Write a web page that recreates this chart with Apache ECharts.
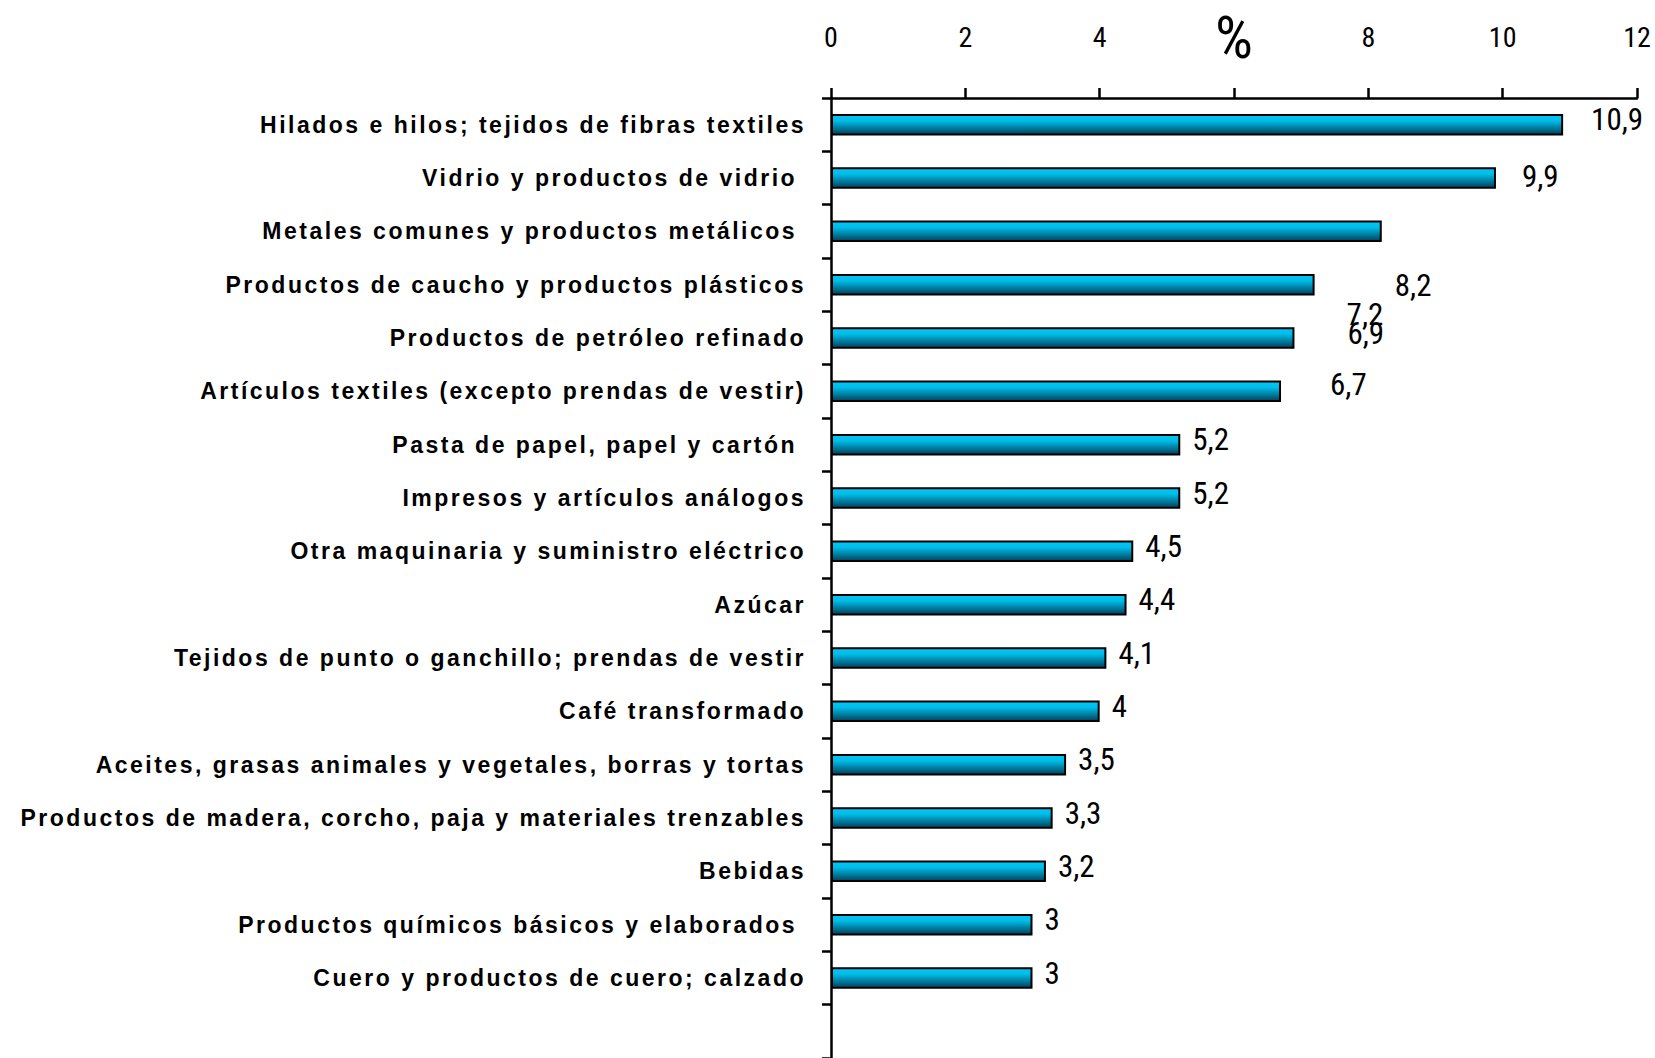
<!DOCTYPE html>
<html>
<head>
<meta charset="utf-8">
<script src="https://cdn.jsdelivr.net/npm/echarts@6/dist/echarts.min.js"></script>
<style>
  html, body { margin: 0; padding: 0; background: #fff; }
  #chart { width: 1655px; height: 1058px; }
  #chart text[style*="bold"], #chart text[font-weight="bold"] { letter-spacing: 2.5px; white-space: pre; }
  #chart text:not([style*="bold"]):not([font-weight="bold"]) { font-stretch: condensed !important; }
</style>
</head>
<body>
<div id="chart"></div>
<script>
const categories = [
  "Hilados e hilos; tejidos de fibras textiles",
  "Vidrio y productos de vidrio ",
  "Metales comunes y productos metálicos ",
  "Productos de caucho y productos plásticos",
  "Productos de petróleo refinado",
  "Artículos textiles (excepto prendas de vestir)",
  "Pasta de papel, papel y cartón ",
  "Impresos y artículos análogos",
  "Otra maquinaria y suministro eléctrico",
  "Azúcar",
  "Tejidos de punto o ganchillo; prendas de vestir",
  "Café transformado",
  "Aceites, grasas animales y vegetales, borras y tortas",
  "Productos de madera, corcho, paja y materiales trenzables",
  "Bebidas",
  "Productos químicos básicos y elaborados ",
  "Cuero y productos de cuero; calzado"
];
const values = [10.9, 9.9, 8.2, 7.2, 6.9, 6.7, 5.2, 5.2, 4.5, 4.4, 4.1, 4, 3.5, 3.3, 3.2, 3, 3];
const xTicks = { min: 0, max: 12, interval: 2 };
const axisTitle = "%";
const axisTitleAt = 6;

// label displacement as in the original (styling only)
const labelOffsets = { 0: [16, -5], 1: [14, -2], 2: [1, 54], 3: [20, 30], 4: [41, -5], 5: [37, -7] };

const narrow = "'Liberation Sans Narrow', 'Arial Narrow', 'Roboto Condensed', 'Noto Sans Condensed', 'DejaVu Sans Condensed', 'Noto Sans', sans-serif";

const chart = echarts.init(document.getElementById('chart'), null, { renderer: 'svg' });

const seriesData = values.map((v, i) => {
  const item = { value: v };
  if (labelOffsets[i]) item.label = { offset: labelOffsets[i] };
  return item;
});

chart.setOption({
  animation: false,
  backgroundColor: '#ffffff',
  grid: { left: 831, top: 98, width: 806, height: 963, containLabel: false },
  xAxis: {
    type: 'value',
    position: 'top',
    min: xTicks.min, max: xTicks.max, interval: xTicks.interval,
    axisLine: { show: true, lineStyle: { color: '#000', width: 2.5 } },
    axisTick: { show: true, length: 10, lineStyle: { color: '#000', width: 2.5 } },
    splitLine: { show: false },
    axisLabel: {
      margin: 47,
      color: '#000',
      fontFamily: narrow,
      fontSize: 28,
      formatter: v => v === axisTitleAt ? '{p|' + axisTitle + '}' : String(v),
      rich: { p: { fontSize: 60, lineHeight: 28, fontFamily: narrow, color: '#000' } }
    }
  },
  yAxis: {
    type: 'category',
    inverse: true,
    data: categories.concat(['']),
    axisLine: { show: true, lineStyle: { color: '#000', width: 2.5 } },
    axisTick: { show: true, length: 9, lineStyle: { color: '#000', width: 2.5 } },
    axisLabel: {
      margin: 25,
      color: '#000',
      fontFamily: "'Liberation Sans', Arial, sans-serif",
      fontWeight: 'bold',
      fontSize: 23
    }
  },
  series: [{
    type: 'bar',
    data: seriesData,
    barWidth: 21.5,
    itemStyle: {
      borderColor: '#000',
      borderWidth: 2,
      color: new echarts.graphic.LinearGradient(0, 0, 0, 1, [
        { offset: 0, color: '#00c8f8' },
        { offset: 0.3, color: '#00bde9' },
        { offset: 1, color: '#00415a' }
      ])
    },
    label: {
      show: true,
      position: 'right',
      distance: 12,
      offset: [0, -5],
      color: '#000',
      fontFamily: narrow,
      fontSize: 31,
      formatter: p => String(p.value).replace('.', ',')
    }
  }]
});
</script>
</body>
</html>
